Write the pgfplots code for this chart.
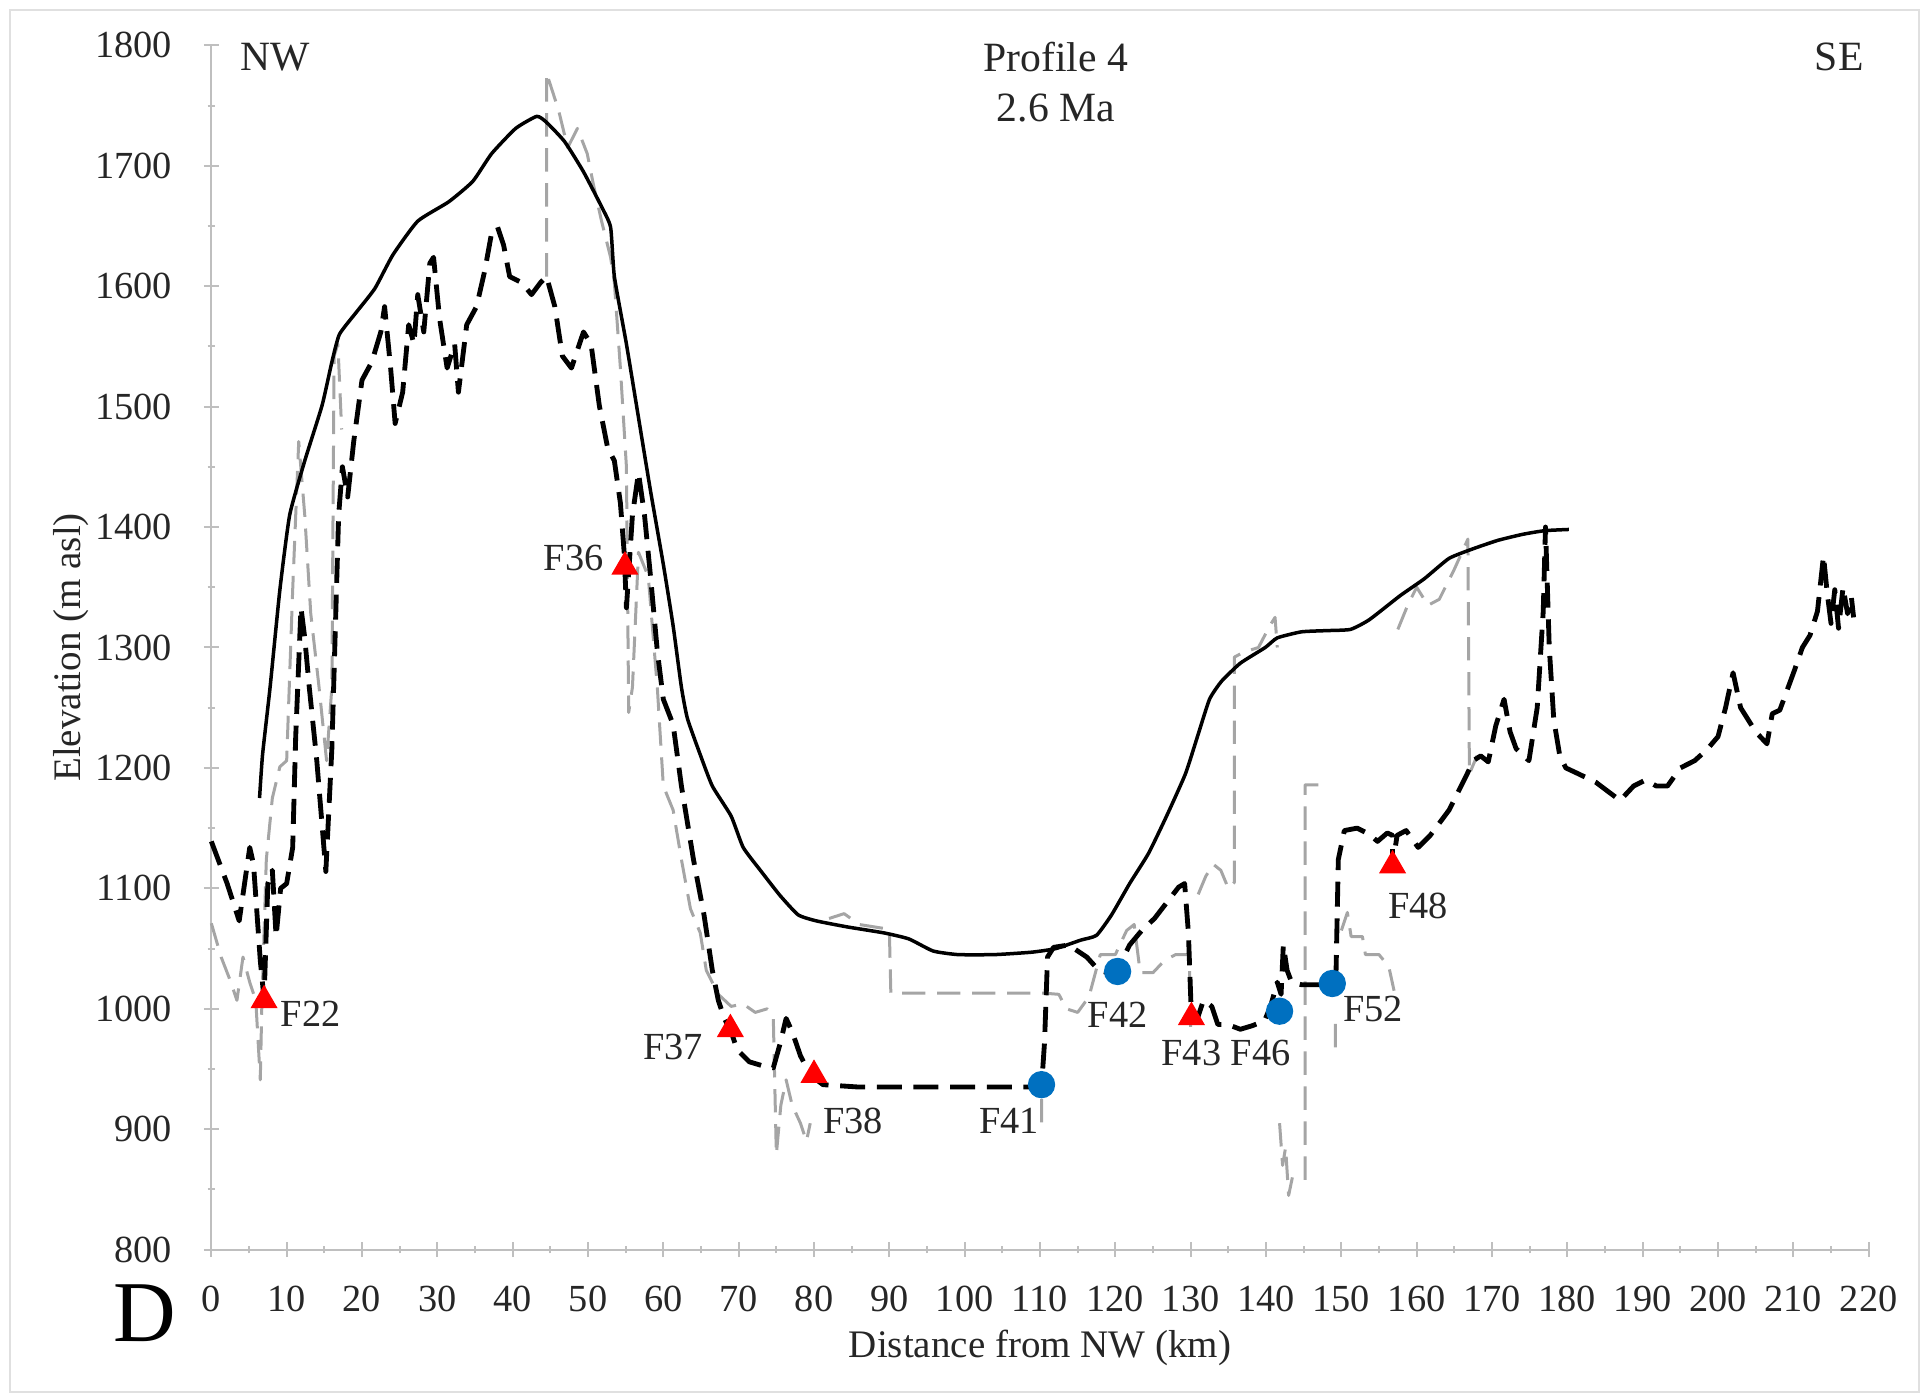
\documentclass[border=0pt]{standalone}
\usepackage{fontspec}
\setmainfont{Liberation Serif}
\usepackage{pgfplots}
\pgfplotsset{compat=1.18}
\definecolor{axgray}{RGB}{191,191,191}
\definecolor{lgray}{RGB}{165,165,165}
\definecolor{mblue}{RGB}{0,112,192}
\begin{document}
\begin{tikzpicture}
\path[use as bounding box] (-63.4pt,-44.5pt) rectangle (514.1pt,374.9pt);
\draw[black!12] (-60.4pt,-42.7pt) rectangle (512.3pt,371.9pt);
\begin{axis}[
  at={(0,0)}, anchor=south west,
  scale only axis, width=497.2pt, height=361.3pt,
  xmin=0, xmax=220, ymin=800, ymax=1800,
  axis lines=left, axis line style={axgray, line width=0.6pt, -},
  xtick={0,10,...,220}, ytick={800,900,...,1800},
  minor xtick={5,15,...,215}, minor ytick={850,950,...,1750},
  tick align=center, major tick length=4.5pt, minor tick length=2.2pt,
  every tick/.style={axgray, line width=0.6pt},
  tick label style={font=\fontsize{11.5}{13}\selectfont, black!85},
  /pgf/number format/assume math mode=true,
  /pgf/number format/1000 sep={},
  xticklabel shift=5pt, yticklabel shift=6pt,
  xlabel={Distance from NW (km)}, ylabel={Elevation (m asl)},
  label style={font=\fontsize{11.7}{14}\selectfont, black!85},
  xlabel style={at={(axis description cs:0.5,0)}, anchor=center, yshift=-29.5pt},
  ylabel style={at={(axis description cs:0,0.5)}, anchor=center, yshift=42pt},
  clip=false, unbounded coords=jump,
]
% grey dashed profile
\addplot[lgray, line width=0.9pt, dash pattern=on 7pt off 3.5pt, line join=round] coordinates {
(0,1071) (1.3,1043) (2.6,1022) (3.4,1007) (4.2,1043) (5.1,1022) (5.9,1007) (6.5,941) (6.7,1002) (7.3,1124) (8.1,1175) (9.1,1201) (10,1206) (10.8,1348) (11.6,1471) (12.4,1410) (13.2,1328) (14.3,1267) (15.3,1206) (16,1267) (16.3,1542) (16.8,1552) (17.3,1481) (17.4,nan)
(44.5,1608) (44.5,1777) (46.1,1746) (47.3,1715) (48.6,1731) (49.9,1710) (50.7,1685) (51.8,1654) (53,1624) (53.5,1603) (54.3,1532) (55.1,1450) (55.4,1246) (55.9,1267) (56.7,1379) (58,1359) (59.2,1267) (60,1185) (61.3,1165) (62.4,1124) (63.6,1083) (64.9,1063) (65.7,1032) (67.3,1012) (69,1002) (70.6,1004) (72.2,997) (73.8,1000) (74.6,992) (75,879) (75.6,920) (76.3,941) (77.1,920) (78.2,905) (79,890) (79.5,905) (79.6,nan)
(82,1075) (84,1079) (86,1070) (90,1066) (90.2,1013) (110.5,1013) (112.5,1012) (113.5,1000) (115,997) (116.5,1010) (118,1045) (120,1045) (121.5,1065) (122.5,1070) (123.3,1030) (125,1030) (126.5,1040) (128,1045) (129.8,1045) (130,985) (130.1,nan)
(110.2,925) (110.2,900) (110.3,nan)
(131,1095) (132,1110) (133,1120) (134,1115) (135,1100) (135.8,1105) (135.8,1292) (137,1296) (139,1300) (140.5,1318) (141.2,1325) (141.5,1300) (141.6,nan)
(141.8,905) (142.2,870) (142.6,885) (143,845) (143.5,860) (143.6,nan)
(145.2,858) (145.2,1186) (147,1186) (147.1,nan)
(149.2,968) (149.2,995) (149.3,nan)
(150,1065) (150.8,1080) (151.3,1060) (152.8,1060) (153.2,1045) (155,1045) (156.3,1035) (157,1015) (157.1,nan)
(157.5,1315) (158.8,1335) (160,1350) (161.5,1335) (163,1340) (165,1365) (166.8,1390) (167,1195) (168,1210)
};
% solid profile
\addplot[black, line width=1.05pt, smooth, tension=0.3, line join=round] coordinates {
(6.4,1175) (6.8,1211) (7.8,1267) (9.1,1348) (10.4,1410) (12.4,1455) (14.7,1501) (16,1537) (17,1560) (19.2,1578) (21.7,1598) (24.1,1626) (27.4,1654) (31.5,1670) (34.7,1687) (37.2,1710) (40.4,1731) (43.2,1741) (44.5,1736) (46.9,1720) (49.4,1695) (51.8,1666) (53,1649) (53.5,1608) (55.1,1552) (56.7,1491) (58.3,1430) (60,1369) (61.3,1318) (62.4,1267) (63.2,1241) (64.9,1211) (66.5,1185) (69,1160) (70.6,1134) (73,1114) (75.5,1094) (77.9,1078) (80.3,1073) (84.4,1068) (89.3,1063) (92.6,1058) (95.8,1048) (99.1,1045) (104,1045) (108.9,1047) (112.1,1050) (115.4,1057) (117.5,1061) (119.5,1078) (121.9,1104) (124.4,1129) (126.8,1160) (129.3,1195) (130.9,1226) (132.5,1257) (134.1,1272) (136.6,1287) (139.9,1300) (141.5,1308) (144.7,1313) (148,1314) (151.2,1315) (153.7,1323) (157.8,1343) (161,1357) (164.3,1374) (167.5,1382) (170.8,1389) (174.1,1394) (177,1397) (180.2,1398)
};
% black dashed profile
\addplot[black, line width=1.45pt, dash pattern=on 7.5pt off 3.5pt, line join=round] coordinates {
(0,1139) (2.1,1104) (3.7,1073) (5.1,1134) (5.6,1120) (6.5,1040) (7,1008) (7.5,1104) (8.1,1115) (8.6,1060) (9.2,1100) (10,1104) (10.8,1134) (11.2,1226) (11.9,1333) (12.4,1308) (13,1267) (14,1206) (14.8,1145) (15.2,1114) (16,1216) (16.9,1410) (17.4,1450) (18.1,1425) (18.9,1471) (20,1522) (21.3,1537) (22.5,1562) (23,1583) (23.8,1532) (24.4,1486) (25.4,1512) (26.2,1568) (26.9,1552) (27.4,1593) (28.2,1562) (29,1619) (29.5,1624) (30.3,1573) (31.3,1532) (32.3,1552) (32.8,1512) (33.9,1568) (35.2,1583) (36.3,1613) (37.2,1644) (38,1649) (38.8,1634) (39.6,1608) (41.2,1603) (42.5,1593) (43.7,1603) (44.5,1608) (45.6,1583) (46.6,1542) (47.8,1532) (48.6,1547) (49.4,1562) (50.4,1552) (51.5,1501) (52.6,1466) (53.5,1455) (54.3,1420) (54.8,1379) (55.1,1333) (55.9,1410) (56.7,1445) (57.5,1410) (58.3,1359) (59.2,1297) (60,1257) (61.3,1236) (62.4,1185) (64,1124) (65.4,1078) (66.5,1032) (67.3,1007) (68.1,992) (69,981) (69.8,966) (71.4,956) (73,953) (74.6,951) (75.5,971) (76.3,992) (77.1,981) (78.2,961) (79.5,945) (81.2,937) (86,935) (100,935) (110.2,935) (110.6,972) (111,1043) (111.8,1051) (113.8,1053) (116.2,1043) (117.8,1032) (119.5,1029) (120.3,1031) (121.1,1043) (121.9,1053) (123.5,1065) (125.2,1075) (126.8,1088) (128.4,1101) (129.2,1104) (129.7,1063) (130.1,993) (130.9,992) (131.7,1007) (132.8,1002) (133.6,987) (134.9,987) (136.6,983) (138.2,986) (139.8,990) (140.6,1002) (141.5,1022) (142,1012) (142.3,1053) (142.8,1032) (143.4,1022) (144.7,1020) (147.2,1020) (148.8,1021) (149.3,1032) (149.6,1124) (150.4,1148) (152.1,1150) (153.7,1145) (154.8,1139) (156.1,1146) (156.8,1144) (156.8,1119) (157.4,1144) (158.6,1148) (160.2,1134) (161.8,1144) (164.3,1165) (166.7,1195) (167.5,1206) (168.5,1210) (169.5,1205) (170.5,1235) (171.6,1257) (172.4,1230) (173.2,1216) (174.9,1206) (176,1250) (176.8,1330) (177.1,1400) (177.6,1300) (178.2,1240) (179,1210) (179.8,1200) (181.5,1195) (183.8,1188) (185.5,1180) (187,1173) (188.8,1185) (190.4,1190) (191.8,1185) (193.3,1185) (195,1200) (196.9,1206) (198.5,1215) (200,1226) (201,1250) (202,1279) (203,1250) (205,1230) (206.5,1220) (207.2,1245) (208.2,1248) (209.2,1265) (210.2,1282) (211.2,1300) (212.2,1310) (213.2,1330) (214,1376) (214.5,1345) (215,1320) (215.5,1348) (216,1316) (216.6,1350) (217.2,1328) (217.7,1342) (218,1325)
};
% markers
\addplot[only marks, mark=triangle*, mark size=4.3pt, color=red] coordinates {
(7,1007) (54.9,1367) (68.9,983) (80,945) (130.1,993) (156.8,1119)
};
\addplot[only marks, mark=*, mark size=3.9pt, color=mblue] coordinates {
(110.2,937) (120.3,1031) (141.8,998) (148.8,1021)
};
% labels
\begin{scope}[every node/.style={font=\fontsize{11.5}{13}\selectfont, text=black!85, inner sep=0pt}]
\node at (axis cs:13.2,996) {F22};
\node at (axis cs:48.1,1374) {F36};
\node at (axis cs:61.3,968) {F37};
\node at (axis cs:85.2,907) {F38};
\node at (axis cs:105.9,907) {F41};
\node at (axis cs:120.3,995) {F42};
\node at (axis cs:130.1,963) {F43};
\node at (axis cs:139.3,963) {F46};
\node at (axis cs:154.2,1000) {F52};
\node at (axis cs:160.2,1085) {F48};
\end{scope}
\begin{scope}[every node/.style={font=\fontsize{12.5}{14}\selectfont, text=black!85, inner sep=0pt}]
\node at (axis cs:8.5,1790) {NW};
\node at (axis cs:216.1,1790) {SE};
\node at (axis cs:112.1,1790) {Profile 4};
\node at (axis cs:112.1,1748) {2.6 Ma};
\end{scope}
\node[font=\fontsize{26}{28}\selectfont, inner sep=0pt] at (axis cs:-8.8,747) {D};
\end{axis}
\end{tikzpicture}
\end{document}
